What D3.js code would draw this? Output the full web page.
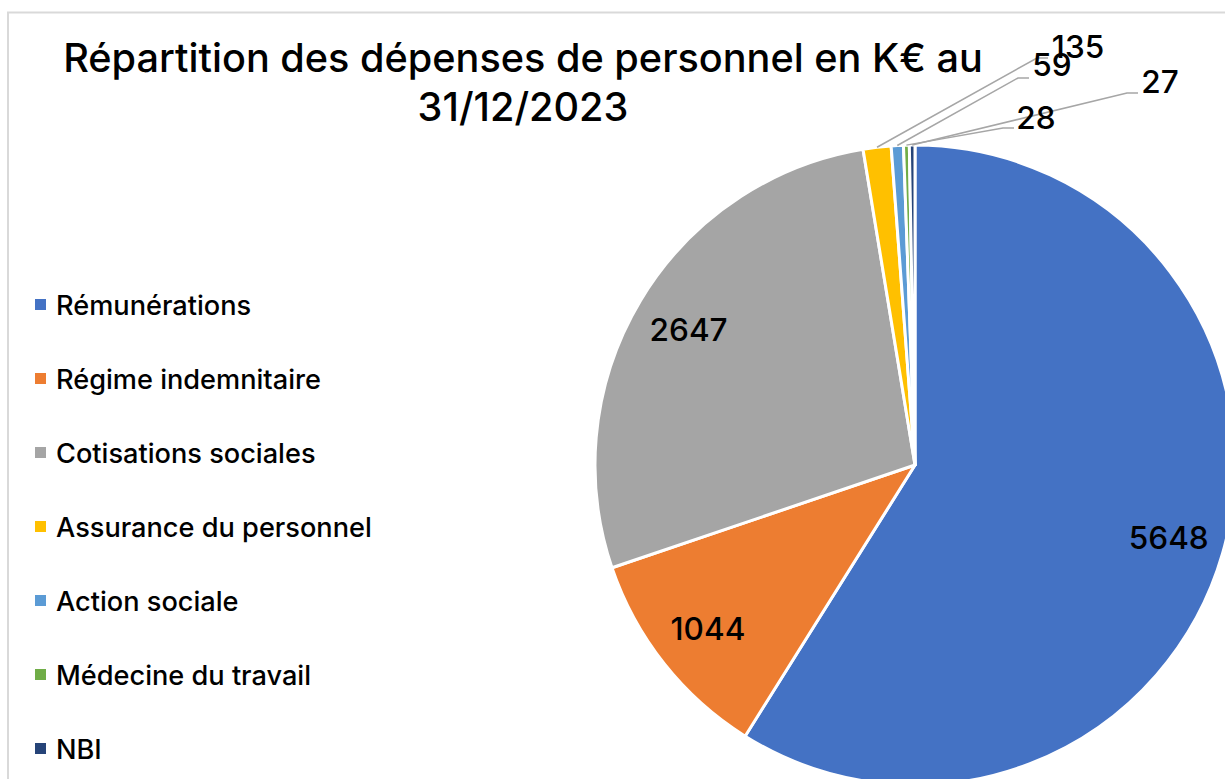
<!DOCTYPE html>
<html>
<head>
<meta charset="utf-8">
<script src="https://cdn.jsdelivr.net/npm/d3@7"></script>
<style>
	body{margin:0;background:#fff;}
	svg{display:block;font-family:Inter,"Open Sans",sans-serif;font-weight:500;}
</style>
</head>
<body>
<svg id="chart" width="1225" height="779"></svg>
<script>
const categories = ['Rémunérations','Régime indemnitaire','Cotisations sociales','Assurance du personnel','Action sociale','Médecine du travail','NBI'];
const values = [5648,1044,2647,135,59,28,27];
const colors = ['#4472C4','#ED7D31','#A5A5A5','#FFC000','#5B9BD5','#70AD47','#264478'];
const titleLines = ['Répartition des dépenses de personnel en K€ au','31/12/2023'];
// callouts for the thin slices: elbow point and label centre
const callouts = [null,null,null,
	{elbow:[1037,58],label:[1078,47]},
	{elbow:[1018,78],label:[1052,65]},
	{elbow:[1003,128],label:[1036,118]},
	{elbow:[1127,93],label:[1160,82]}];

const svg = d3.select('#chart');
const cx = 915, cy = 465, radius = 320;

// scale font so a sample text gets the wanted width
function fitSize(sample,base,target){
	const t = svg.append('text').attr('font-size',base).text(sample);
	const w = t.node().getComputedTextLength();
	t.remove();
	return base*target/w;
}
const titleSize = fitSize(titleLines[0],32,920);
const legendSize = fitSize('Assurance du personnel',22,316);
const numSize = fitSize('5648',29,80);

// frame
svg.append('path')
	.attr('d','M8,779 L8,12.5 L1225,12.5')
	.attr('fill','none')
	.attr('stroke','#d9d9d9')
	.attr('stroke-width',2);

// title
svg.append('g')
	.selectAll('text')
	.data(titleLines)
	.join('text')
		.attr('x',523)
		.attr('y',(d,i)=>72+i*49)
		.attr('text-anchor','middle')
		.attr('font-size',titleSize)
		.attr('fill','#000')
		.text(d=>d);

const data = categories.map((c,i)=>({name:c,value:values[i],color:colors[i],callout:callouts[i]}));

const pie = d3.pie().value(d=>d.value).sort(null);
const arc = d3.arc().innerRadius(0).outerRadius(radius);
const labelArc = d3.arc().innerRadius(264).outerRadius(264);
const arcs = pie(data);

const g = svg.append('g').attr('transform','translate('+cx+','+cy+')');
g.selectAll('path.slice')
	.data(arcs)
	.join('path')
		.classed('slice',true)
		.attr('d',arc)
		.attr('fill',d=>d.data.color)
		.attr('stroke','#fff')
		.attr('stroke-width',3)
		.attr('stroke-linejoin','round');

// big labels inside
g.selectAll('text.inner')
	.data(arcs.filter(d=>!d.data.callout))
	.join('text')
		.classed('inner',true)
		.attr('transform',d=>'translate('+labelArc.centroid(d)+')')
		.attr('text-anchor','middle')
		.attr('dy','0.36em')
		.attr('font-size',numSize)
		.text(d=>d.data.value);

// callouts
const small = arcs.filter(d=>d.data.callout);
const outer = d3.arc().innerRadius(radius).outerRadius(radius);
svg.selectAll('polyline.leader')
	.data(small)
	.join('polyline')
		.classed('leader',true)
		.attr('fill','none')
		.attr('stroke','#a6a6a6')
		.attr('stroke-width',1.5)
		.attr('points',d=>{
			const p = outer.centroid(d);
			const e = d.data.callout.elbow;
			return [[p[0]+cx,p[1]+cy],e,[e[0]+11,e[1]]].map(q=>q.join(',')).join(' ');
		});
svg.selectAll('text.outer')
	.data(small)
	.join('text')
		.classed('outer',true)
		.attr('x',d=>d.data.callout.label[0])
		.attr('y',d=>d.data.callout.label[1])
		.attr('text-anchor','middle')
		.attr('dy','0.36em')
		.attr('font-size',numSize)
		.text(d=>d.data.value);

// legend
const legend = svg.append('g').selectAll('g.item')
	.data(data)
	.join('g')
		.classed('item',true)
		.attr('transform',(d,i)=>'translate(35,'+(305+i*74)+')');
legend.append('rect')
	.attr('x',0).attr('y',-6)
	.attr('width',11).attr('height',11)
	.attr('fill',d=>d.color);
legend.append('text')
	.attr('x',21)
	.attr('dy','0.36em')
	.attr('font-size',legendSize)
	.text(d=>d.name);
</script>
</body>
</html>
